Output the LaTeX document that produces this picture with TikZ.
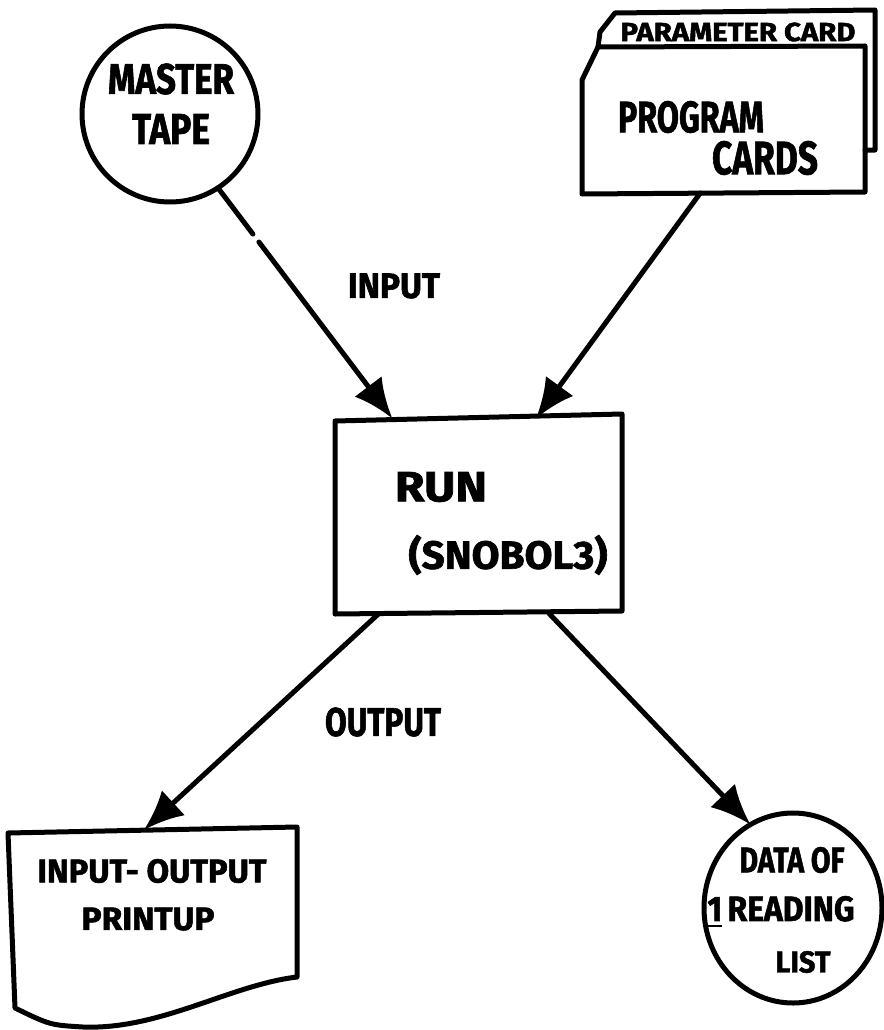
\documentclass[tikz,border=0pt]{standalone}
\usepackage{fontspec}
\setmainfont{Fira Sans}
\newfontfamily\handfont{Fira Sans}[BoldFeatures={FakeBold=1.6}]
\usepackage{graphicx}
\usetikzlibrary{arrows.meta,shapes.geometric,calc}
% hand-lettered label: width, total height, text
\newcommand\hand[3]{\resizebox*{#1pt}{#2pt}{\handfont\bfseries #3}}

\begin{document}
\begin{tikzpicture}[x=1pt,y=-1pt,
  ink/.style={line width=5pt, line join=round, line cap=round},
  flow/.style={ink, -{Latex[length=40pt 0 0,width=34pt 0 0]}},
  lbl/.style={inner sep=0pt, outer sep=0pt},
  hold/.style={inner sep=0pt, outer sep=0pt, draw=none},
]
\useasboundingbox (0,0) rectangle (883,1030);

% ---- master tape ----
\node[ink, draw, circle, minimum size=176pt, inner sep=0pt, outer sep=0pt] (master) at (170,114) {};
\node[lbl] (masterA) at (171,79) {\hand{126}{31}{MASTER}};
\node[lbl] (masterB) at (171,129) {\hand{78}{30}{TAPE}};

% ---- card deck ----
\node[hold, minimum width=283pt, minimum height=146pt] (cards) at (723.5,120) {};
\draw[ink] (598,47) -- (600,32) -- (615,13) -- (875,10) -- (875,150) -- (865,150);
\draw[ink] (598,47) -- (865,46) -- (865,192) -- (582,194) -- (582,80) -- cycle;
\node[lbl] (param) at (738,32) {\hand{235}{19}{PARAMETER CARD}};
\node[lbl] (progA) at (691,117) {\hand{146}{32}{PROGRAM}};
\node[lbl] (progB) at (765,158) {\hand{106}{34}{CARDS}};

% ---- run box ----
\node[hold, minimum width=287pt, minimum height=195pt] (run) at (478.5,516) {};
\draw[ink] (335,421) -- (622,414) -- (622,611) -- (335,614) -- cycle;
\node[lbl] (runA) at (441,487) {\hand{92}{30}{RUN}};
\node[lbl] (runB) at (508,555) {\hand{199}{40}{(SNOBOL3)}};

% ---- printout ----
\node[hold, minimum width=289pt, minimum height=180pt] (printup) at (152.5,920) {};
\draw[ink] (8,833) -- (297,827) -- (297,977)
  .. controls (230,985) and (160,1030) .. (83,1027)
  .. controls (50,1025) .. (15,1008) -- cycle;
\node[lbl] (prA) at (152,871) {\hand{229}{24}{INPUT- OUTPUT}};
\node[lbl] (prB) at (148,919) {\hand{133}{23}{PRINTUP}};

% ---- reading list data ----
\node[ink, draw, ellipse, minimum width=178pt, minimum height=190pt, inner sep=0pt, outer sep=0pt] (data) at (793,908) {};
\node[lbl] (dataA) at (792,860) {\hand{105}{26}{DATA OF}};
\node[lbl] (dataB) at (781,912) {\hand{147}{32}{\underline{1}\,READING}};
\node[lbl] (dataC) at (803,962) {\hand{55}{22}{LIST}};

% ---- connectors ----
\draw[flow, dash pattern=on 58pt off 10pt on 1000pt]
  (master.-57) -- ($(run.north west)!0.2!(run.north east)$);
\draw[flow] ($(cards.south west)!0.418!(cards.south east)$)
  -- ($(run.north west)!0.70!(run.north east)$);
\draw[flow] ($(run.south west)!0.153!(run.south east)$)
  -- ($(printup.north west)!0.47!(printup.north east)$);
\draw[flow] ($(run.south west)!0.746!(run.south east)$) -- (data.117);

\node[lbl] (inlbl) at (394,286) {\hand{92}{25}{INPUT}};
\node[lbl] (outlbl) at (383,722) {\hand{116}{29}{OUTPUT}};
\end{tikzpicture}
\end{document}
